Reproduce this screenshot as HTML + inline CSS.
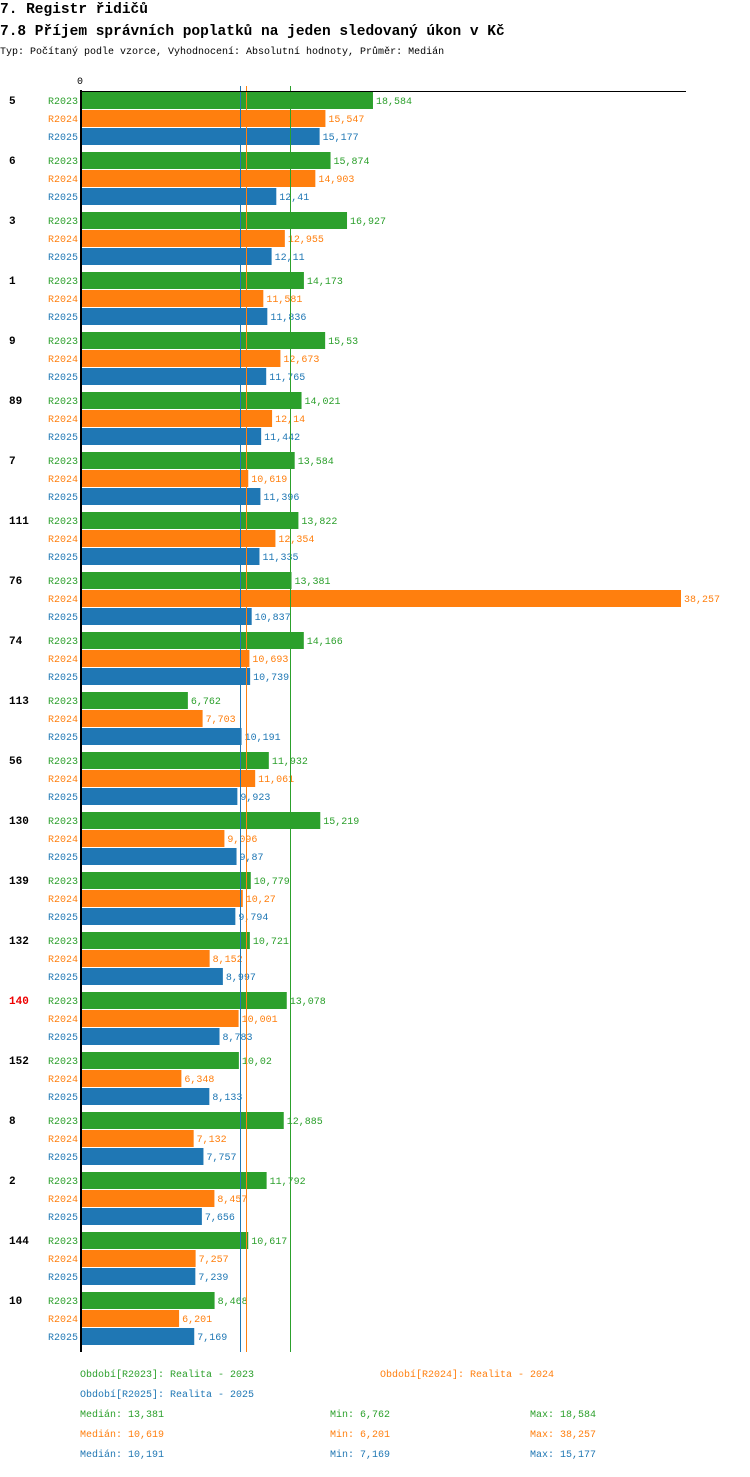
<!DOCTYPE html>
<html><head><meta charset="utf-8"><style>
body{margin:0;background:#fff;width:750px;height:1472px;overflow:hidden;font-family:"Liberation Mono",monospace}
</style></head><body>
<svg width="750" height="1472" xmlns="http://www.w3.org/2000/svg" font-family="Liberation Mono, DejaVu Sans Mono, monospace" id="chart">
<text x="0" y="13" font-size="14.5" font-weight="bold">7. Registr řidičů</text>
<text x="0" y="35" font-size="14.5" font-weight="bold">7.8 Příjem správních poplatků na jeden sledovaný úkon v Kč</text>
<text x="0" y="54" font-size="10">Typ: Počítaný podle vzorce, Vyhodnocení: Absolutní hodnoty, Průměr: Medián</text>
<text x="77" y="84" font-size="10">0</text>
<g id="bars"></g>
<g id="medians" shape-rendering="crispEdges"></g>
<line x1="80" y1="91.5" x2="686" y2="91.5" stroke="#000" stroke-width="1" shape-rendering="crispEdges"/>
<line x1="81" y1="90" x2="81" y2="1352" stroke="#000" stroke-width="2" shape-rendering="crispEdges"/>
<g font-size="10" id="legend">
<text x="80" y="1377" fill="#2ca02c">Období[R2023]: Realita - 2023</text>
<text x="380" y="1377" fill="#ff7f0e">Období[R2024]: Realita - 2024</text>
<text x="80" y="1397" fill="#1f77b4">Období[R2025]: Realita - 2025</text>
<text x="80" y="1417" fill="#2ca02c">Medián: 13,381</text>
<text x="330" y="1417" fill="#2ca02c">Min: 6,762</text>
<text x="530" y="1417" fill="#2ca02c">Max: 18,584</text>
<text x="80" y="1437" fill="#ff7f0e">Medián: 10,619</text>
<text x="330" y="1437" fill="#ff7f0e">Min: 6,201</text>
<text x="530" y="1437" fill="#ff7f0e">Max: 38,257</text>
<text x="80" y="1457" fill="#1f77b4">Medián: 10,191</text>
<text x="330" y="1457" fill="#1f77b4">Min: 7,169</text>
<text x="530" y="1457" fill="#1f77b4">Max: 15,177</text>
</g>
</svg>
<script>
const categories=["5","6","3","1","9","89","7","111","76","74","113","56","130","139","132","140","152","8","2","144","10"];
const r2023=[18584,15874,16927,14173,15530,14021,13584,13822,13381,14166,6762,11932,15219,10779,10721,13078,10020,12885,11792,10617,8468];
const r2024=[15547,14903,12955,11581,12673,12140,10619,12354,38257,10693,7703,11061,9096,10270,8152,10001,6348,7132,8457,7257,6201];
const r2025=[15177,12410,12110,11836,11765,11442,11396,11335,10837,10739,10191,9923,9870,9794,8997,8783,8133,7757,7656,7239,7169];
const valueLabels2023=["18,584","15,874","16,927","14,173","15,53","14,021","13,584","13,822","13,381","14,166","6,762","11,932","15,219","10,779","10,721","13,078","10,02","12,885","11,792","10,617","8,468"];
const valueLabels2024=["15,547","14,903","12,955","11,581","12,673","12,14","10,619","12,354","38,257","10,693","7,703","11,061","9,096","10,27","8,152","10,001","6,348","7,132","8,457","7,257","6,201"];
const valueLabels2025=["15,177","12,41","12,11","11,836","11,765","11,442","11,396","11,335","10,837","10,739","10,191","9,923","9,87","9,794","8,997","8,783","8,133","7,757","7,656","7,239","7,169"];
const medians=[13381,10619,10191];
const highlighted="140";

const NS="http://www.w3.org/2000/svg";
const x0=82, scale=599/38257;
const xs=v=>x0+v*scale;
const groupY=i=>92+i*60;
const series=[
 {name:"R2023",vals:r2023,labels:valueLabels2023,color:"#2ca02c"},
 {name:"R2024",vals:r2024,labels:valueLabels2024,color:"#ff7f0e"},
 {name:"R2025",vals:r2025,labels:valueLabels2025,color:"#1f77b4"}];
const g=document.getElementById("bars");
function mk(tag,attrs){const e=document.createElementNS(NS,tag);for(const k in attrs)e.setAttribute(k,attrs[k]);return e;}
categories.forEach((c,i)=>{
 const y=groupY(i);
 const cl=mk("text",{x:9,y:y+12,"font-size":11,"font-weight":"bold",fill:c===highlighted?"#e00":"#000"});
 
 
 cl.textContent=c;g.appendChild(cl);
 series.forEach((s,j)=>{
  const by=y+j*18;
  const sl=mk("text",{x:78,y:by+12,"font-size":10,fill:s.color,"text-anchor":"end"});
  
  
  sl.textContent=s.name;g.appendChild(sl);
  const r=mk("rect",{x:x0,y:by,width:xs(s.vals[i])-x0,height:17,fill:s.color});
  
  
  g.appendChild(r);
  const vl=mk("text",{x:xs(s.vals[i])+3,y:by+12,"font-size":10,fill:s.color});
  
  
  vl.textContent=s.labels[i];g.appendChild(vl);
 });
});
const mg=document.getElementById("medians");
medians.forEach((m,j)=>{
 const mx=Math.round(xs(m)-2)+0.5;
 const l=mk("line",{x1:mx,x2:mx,y1:86,y2:1352,stroke:series[j].color,"stroke-width":1});
 
 
 mg.appendChild(l);
});
</script>
</body></html>
